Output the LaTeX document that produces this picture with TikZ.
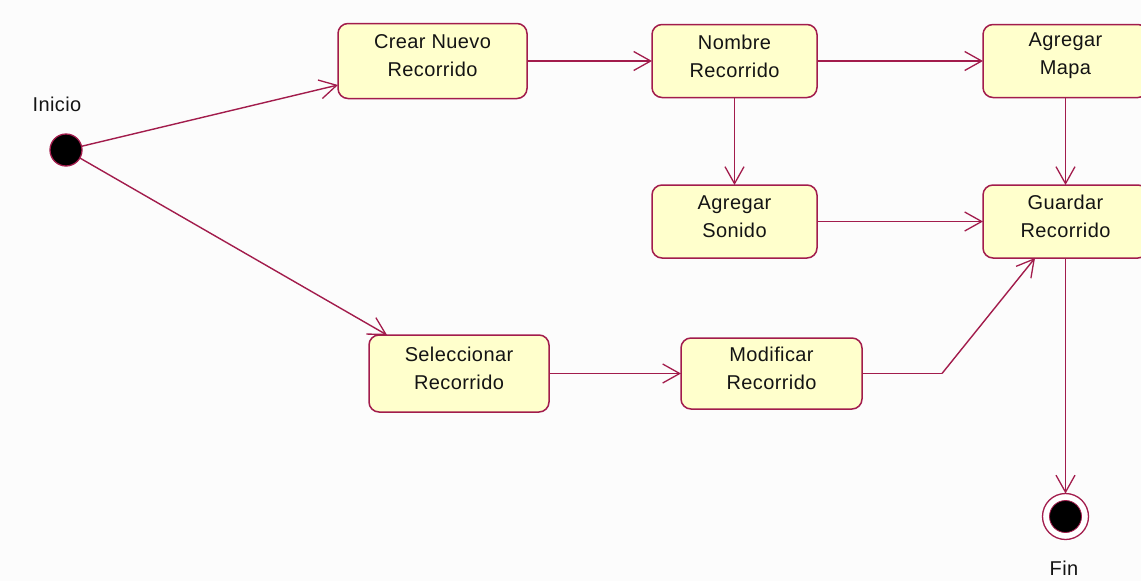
\documentclass[tikz,border=0pt]{standalone}
\usepackage{fontspec}
\setmainfont{Liberation Sans}[LetterSpace=2.0]
\usetikzlibrary{arrows.meta,calc}
\definecolor{umlline}{RGB}{162,28,76}
\definecolor{umlfill}{RGB}{255,255,204}
\definecolor{umltext}{RGB}{20,20,20}
\definecolor{bgcol}{RGB}{252,252,252}
\begin{document}
\begin{tikzpicture}[x=1pt,y=-1pt,
  every node/.style={font=\fontsize{20}{28}\selectfont, text=umltext},
  activity/.style={draw=umlline, fill=umlfill, line width=1.5pt, rounded corners=10pt,
    inner sep=0pt, outer sep=0pt},
  lbl/.style={align=center, yshift=5pt, inner sep=0pt},
  flow/.style={draw=umlline, line width=1.4pt,
    -{Straight Barb[length=17pt,width=19pt,line width=1.3pt]}},
  plain/.style={draw=umlline, line width=1.4pt}]
\useasboundingbox (0,0) rectangle (1141,581);
\clip (0,0) rectangle (1141,581);
\fill[bgcol] (0,0) rectangle (1141,581);

% start
\node[circle, draw=umlline, fill=black, line width=1.3pt, minimum size=32pt, inner sep=0pt, outer sep=0pt] (start) at (66,150) {};
\node[anchor=base] (inicio) at (57,111) {Inicio};

% activities
\node[activity, minimum width=189pt, minimum height=75pt,
  label={[lbl]center:{Crear Nuevo\\Recorrido}}] (crear) at (432.5,61) {};
\node[activity, minimum width=165pt, minimum height=73pt,
  label={[lbl]center:{Nombre\\Recorrido}}] (nombre) at (734.5,61) {};
\node[activity, minimum width=165pt, minimum height=73pt,
  label={[lbl]center:{Agregar\\Mapa}}] (mapa) at (1065.5,61) {};
\node[activity, minimum width=165pt, minimum height=73pt,
  label={[lbl]center:{Agregar\\Sonido}}] (sonido) at (734.5,221.5) {};
\node[activity, minimum width=165pt, minimum height=73pt,
  label={[lbl]center:{Guardar\\Recorrido}}] (guardar) at (1065.5,221.5) {};
\node[activity, minimum width=180pt, minimum height=77pt,
  label={[lbl]center:{Seleccionar\\Recorrido}}] (selecc) at (459,373.5) {};
\node[activity, minimum width=181pt, minimum height=71pt,
  label={[lbl]center:{Modificar\\Recorrido}}] (modif) at (771.5,373.5) {};

% end
\node[circle, draw=umlline, fill=white, line width=1.3pt, minimum size=46pt, inner sep=0pt, outer sep=0pt] (fin) at (1065.5,516.5) {};
\node[circle, draw=umlline, fill=black, line width=0.8pt, minimum size=32pt, inner sep=0pt] (fincore) at (fin.center) {};
\node[anchor=base] (fintext) at (1064,575) {Fin};

\coordinate (bend) at (942,373.5);

% flows
\draw[flow] (start) -- ($(crear.west)+(0,24)$);
\draw[flow] (start) -- ($(selecc.north)+(-72,0)$);
\draw[flow] (crear.east) -- (nombre.west);
\draw[flow] (nombre.east) -- (mapa.west);
\draw[flow] (nombre.south) -- (sonido.north);
\draw[flow] (mapa.south) -- (guardar.north);
\draw[flow] (sonido.east) -- (guardar.west);
\draw[flow] (selecc.east) -- (modif.west);
\draw[plain] (modif.east) -- (bend);
\draw[flow] (bend) -- ($(guardar.south)+(-30.5,0)$);
\draw[flow] (guardar.south) -- (fin.north);
\end{tikzpicture}
\end{document}
